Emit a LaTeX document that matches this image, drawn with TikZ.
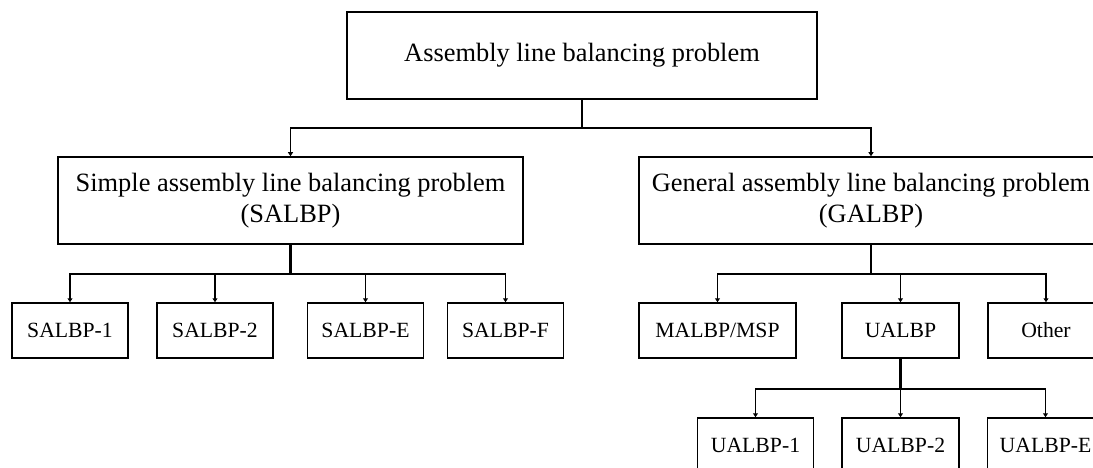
\documentclass[tikz,border=0pt]{standalone}
\usepackage{fontspec}
\setmainfont{Liberation Serif}
\usetikzlibrary{arrows.meta}
\begin{document}
\begin{tikzpicture}[x=1pt,y=-1pt,
  bigbox/.style={draw, line width=1.5pt, inner sep=0pt, align=center, font=\fontsize{26.4}{30.5}\selectfont},
  smallbox/.style={draw, line width=1.5pt, inner sep=0pt, minimum height=55pt, minimum width=116pt, font=\fontsize{21.7}{26}\selectfont},
  conn/.style={line width=1.4pt, -{Triangle[length=4pt,width=5pt]}},
  stem/.style={line width=2.3pt}]
\clip (0,0) rectangle (1093,468);
\fill[white] (0,0) rectangle (1093,468);
% top
\node[bigbox, minimum width=470pt, minimum height=87pt] (top) at (582,55.5) {Assembly line balancing problem};
\node[bigbox, minimum width=465pt, minimum height=87pt] (salbp) at (290.5,200.5) {Simple assembly line balancing problem\\(SALBP)};
\node[bigbox, minimum width=464pt, minimum height=87pt] (galbp) at (871,200.5) {General assembly line balancing problem\\(GALBP)};
% SALBP children
\node[smallbox] (s1) at (70,330.5) {SALBP-1};
\node[smallbox] (s2) at (215,330.5) {SALBP-2};
\node[smallbox] (se) at (365.5,330.5) {SALBP-E};
\node[smallbox] (sf) at (505.5,330.5) {SALBP-F};
% GALBP children
\node[smallbox, minimum width=157pt] (malbp) at (717.5,330.5) {MALBP/MSP};
\node[smallbox, minimum width=117pt] (ualbp) at (900.5,330.5) {UALBP};
\node[smallbox] (other) at (1046,330.5) {Other};
% UALBP children
\node[smallbox] (u1) at (755.5,445.5) {UALBP-1};
\node[smallbox, minimum width=117pt] (u2) at (900.5,445.5) {UALBP-2};
\node[smallbox] (ue) at (1045.5,445.5) {UALBP-E};
% buses
\coordinate (b0) at (582,128);
\coordinate (b1) at (290.5,274);
\coordinate (b2) at (871,274);
\coordinate (b3) at (900.5,389);
% connectors
\draw[stem] (top.south) -- (b0);
\draw[conn] (b0) -| (salbp.north);
\draw[conn] (b0) -| (galbp.north);
\draw[stem] (salbp.south) -- (b1);
\draw[conn] (b1) -| (s1.north);
\draw[conn] (b1) -| (s2.north);
\draw[conn] (b1) -| (se.north);
\draw[conn] (b1) -| (sf.north);
\draw[stem] (galbp.south) -- (b2);
\draw[conn] (b2) -| (malbp.north);
\draw[conn] (b2) -| (ualbp.north);
\draw[conn] (b2) -| (other.north);
\draw[stem] (ualbp.south) -- (b3);
\draw[conn] (b3) -| (u1.north);
\draw[conn] (b3) -- (u2.north);
\draw[conn] (b3) -| (ue.north);
\end{tikzpicture}
\end{document}
